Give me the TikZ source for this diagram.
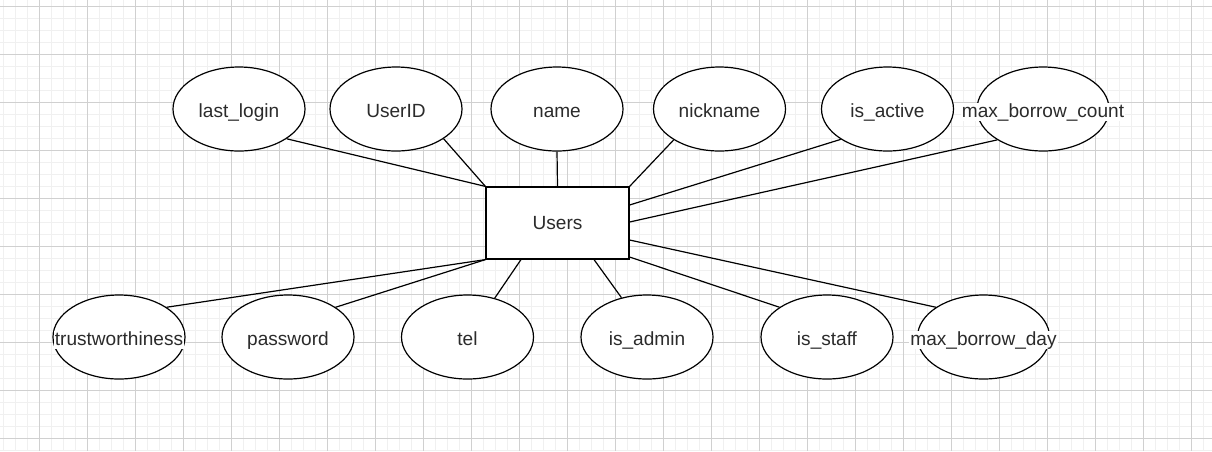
\documentclass[tikz,border=0pt]{standalone}
\usepackage{fontspec}
\setmainfont{Liberation Sans}
\usetikzlibrary{shapes.geometric}

\definecolor{gridmajor}{HTML}{D0D0D0}
\definecolor{gridminor}{HTML}{F0F0F0}
\definecolor{ink}{HTML}{2B2B2B}

\tikzset{
  attr/.style={ellipse, draw, line width=0.9pt, fill=white,
    minimum width=99pt, minimum height=63pt, inner sep=0pt},
  lbl/.style={fill=white, inner sep=1pt, text=ink, yshift=-2.45pt,
    text height=9.5pt, text depth=2pt,
    font=\fontsize{14.3pt}{17pt}\selectfont},
  entity/.style={rectangle, draw, line width=0.9pt, fill=white,
    minimum width=107.25pt, minimum height=54pt, inner sep=0pt,
    text=ink, font=\fontsize{14.3pt}{17pt}\selectfont},
  link/.style={line width=0.9pt}
}

\begin{document}
\begin{tikzpicture}[x=0.75pt,y=-0.75pt]
\useasboundingbox (0,0) rectangle (1212,451);
\fill[white] (0,0) rectangle (1212,451);
\foreach \gx in {3,15,...,1211}
    \draw[gridminor, line width=0.75pt] (\gx,0) -- (\gx,451);
\foreach \gy in {6,18,...,450}
    \draw[gridminor, line width=0.75pt] (0,\gy) -- (1212,\gy);
\foreach \gx in {39,87,...,1211}
    \draw[gridmajor, line width=0.75pt] (\gx,0) -- (\gx,451);
\foreach \gy in {6,54,...,450}
    \draw[gridmajor, line width=0.75pt] (0,\gy) -- (1212,\gy);

\node[entity] (users) at (557.5,223) {Users};

\node[attr, label={[lbl]center:last\_login}] (lastlogin) at (239,109) {};
\node[attr, label={[lbl]center:UserID}] (userid) at (396,109) {};
\node[attr, label={[lbl]center:name}] (name) at (557,109) {};
\node[attr, label={[lbl]center:nickname}] (nickname) at (719.5,109) {};
\node[attr, label={[lbl]center:is\_active}] (isactive) at (887.5,109) {};
\node[attr, label={[lbl]center:max\_borrow\_count}] (maxcount) at (1043,109) {};

\node[attr, label={[lbl]center:trustworthiness}] (trust) at (119,337) {};
\node[attr, label={[lbl]center:password}] (password) at (288,337) {};
\node[attr, label={[lbl]center:tel}] (tel) at (467.5,337) {};
\node[attr, label={[lbl]center:is\_admin}] (isadmin) at (647,337) {};
\node[attr, label={[lbl]center:is\_staff}] (isstaff) at (827,337) {};
\node[attr, label={[lbl]center:max\_borrow\_day}] (maxday) at (983.5,337) {};

\draw[link] (lastlogin.-32) -- (users.north west);
\draw[link] (userid.-32.5) -- (users.north west);
\draw[link] (name.south) -- (users.north);
\draw[link] (nickname.-146.3) -- (users.north east);
\draw[link] (isactive.-147.7) -- ([yshift=13.5pt]users.east);
\draw[link] (maxcount.-146.9) -- ([yshift=0.75pt]users.east);

\draw[link] (trust.32) -- (users.south west);
\draw[link] (password.32.5) -- (users.south west);
\draw[link] (tel.55.5) -- ([xshift=-27.4pt]users.south);
\draw[link] (isadmin.123.7) -- ([xshift=27.4pt]users.south);
\draw[link] (isstaff.148.3) -- ([yshift=-25.5pt]users.east);
\draw[link] (maxday.148.3) -- ([yshift=-12.75pt]users.east);
\end{tikzpicture}
\end{document}
